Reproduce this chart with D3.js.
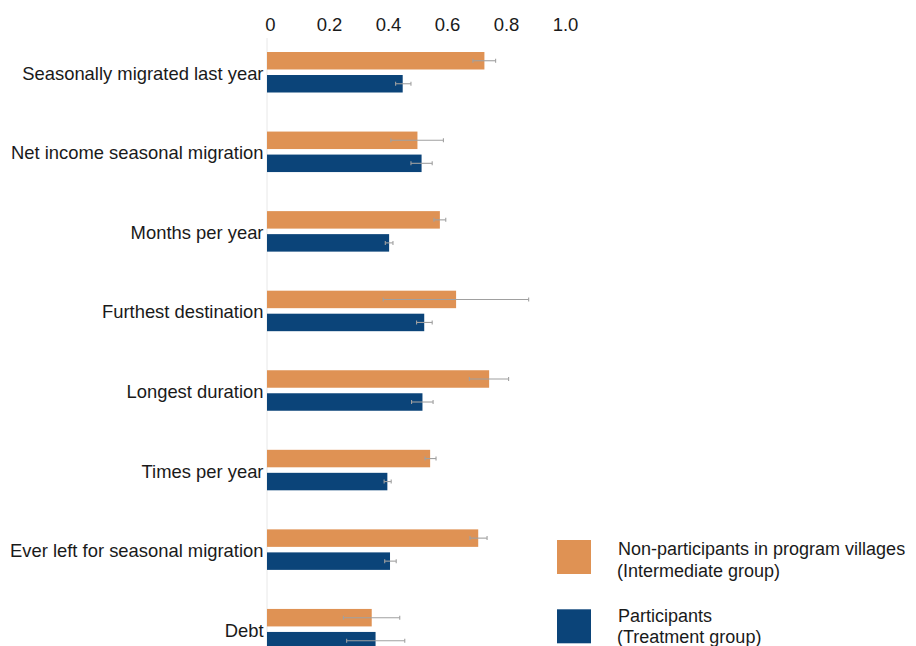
<!DOCTYPE html>
<html>
<head>
<meta charset="utf-8">
<script src="https://cdn.jsdelivr.net/npm/d3@7/dist/d3.min.js"></script>
<style>
  html, body { margin: 0; padding: 0; background: #fff; }
  svg { display: block; font-family: "Liberation Sans", Arial, Helvetica, sans-serif; }
</style>
</head>
<body>
<svg id="chart" width="916" height="646"></svg>
<script>
// Outcome categories, top to bottom
const categories = [
  "Seasonally migrated last year",
  "Net income seasonal migration",
  "Months per year",
  "Furthest destination",
  "Longest duration",
  "Times per year",
  "Ever left for seasonal migration",
  "Debt"
];

const seriesNames = [
  "Non-participants in program villages",
  "Participants"
];
const seriesSubtitles = ["(Intermediate group)", "(Treatment group)"];

// Point estimates
const intermediateValues = [0.737, 0.510, 0.586, 0.641, 0.753, 0.553, 0.716, 0.355];
const treatmentValues    = [0.460, 0.524, 0.414, 0.533, 0.527, 0.408, 0.417, 0.368];

// Confidence interval bounds
const intermediateLow  = [0.698, 0.420, 0.566, 0.394, 0.686, 0.536, 0.688, 0.259];
const intermediateHigh = [0.775, 0.598, 0.606, 0.887, 0.819, 0.573, 0.746, 0.450];
const treatmentLow     = [0.436, 0.488, 0.401, 0.507, 0.490, 0.397, 0.399, 0.270];
const treatmentHigh    = [0.488, 0.560, 0.427, 0.560, 0.563, 0.421, 0.438, 0.467];

const tickValues = [0, 0.2, 0.4, 0.6, 0.8, 1.0];
const tickLabels = ["0", "0.2", "0.4", "0.6", "0.8", "1.0"];

const colors = ["#DF9254", "#0B4479"];

const rows = categories.map((c, i) => ({
  category: c,
  bars: [
    { key: seriesNames[0], value: intermediateValues[i], lo: intermediateLow[i], hi: intermediateHigh[i], color: colors[0] },
    { key: seriesNames[1], value: treatmentValues[i],    lo: treatmentLow[i],    hi: treatmentHigh[i],    color: colors[1] }
  ]
}));

const svg = d3.select("#chart");

const x = d3.scaleLinear().domain([0, 1]).range([267, 562]);
const y = d3.scaleBand().domain(categories).range([40.5, 677]).padding(0);
const ySub = d3.scaleBand().domain(seriesNames).range([11.5, 52]).paddingInner(0.24).paddingOuter(0);

// Baseline at zero
svg.append("line")
  .attr("x1", x(0)).attr("x2", x(0))
  .attr("y1", 38).attr("y2", 646)
  .attr("stroke", "#e8e8e8").attr("stroke-width", 1);

// Top axis labels
const axis = d3.axisTop(x).tickValues(tickValues)
  .tickFormat((d, i) => tickLabels[i]).tickSize(0).tickPadding(0);
const gAxis = svg.append("g").attr("transform", "translate(3,31)").call(axis);
gAxis.select(".domain").remove();
gAxis.selectAll("text")
  .attr("font-size", 18.5).attr("fill", "#1a1a1a")
  .attr("font-family", "Liberation Sans, Arial, sans-serif")
  .attr("dy", 0);

// Category labels
svg.append("g").selectAll("text").data(categories).join("text")
  .attr("x", 263.5)
  .attr("y", d => y(d) + y.bandwidth() / 2 - 7)
  .attr("dy", "0.35em")
  .attr("text-anchor", "end")
  .attr("font-size", 18.4)
  .attr("fill", "#1a1a1a")
  .text(d => d);

// Bars
const groups = svg.append("g").selectAll("g").data(rows).join("g")
  .attr("transform", d => `translate(0,${y(d.category)})`);

groups.selectAll("rect").data(d => d.bars).join("rect")
  .attr("x", x(0))
  .attr("y", d => ySub(d.key))
  .attr("width", d => x(d.value) - x(0))
  .attr("height", ySub.bandwidth())
  .attr("fill", d => d.color);

// Error bars
const err = groups.selectAll("g.err").data(d => d.bars).join("g").attr("class", "err")
  .attr("transform", d => `translate(0,${ySub(d.key) + ySub.bandwidth() / 2})`)
  .attr("stroke", "#a0a0a0").attr("stroke-width", 1.1);
err.append("line").attr("x1", d => x(d.lo)).attr("x2", d => x(d.hi)).attr("y1", 0).attr("y2", 0);
err.append("line").attr("x1", d => x(d.lo)).attr("x2", d => x(d.lo)).attr("y1", -2).attr("y2", 2);
err.append("line").attr("x1", d => x(d.hi)).attr("x2", d => x(d.hi)).attr("y1", -2).attr("y2", 2);

// Legend
const legend = svg.append("g").selectAll("g").data(seriesNames).join("g")
  .attr("transform", (d, i) => `translate(557,${540 + i * 69.3})`);
legend.append("rect")
  .attr("width", 34).attr("height", 34)
  .attr("fill", (d, i) => colors[i]);
legend.append("text")
  .attr("x", 61).attr("y", (d, i) => 14.5 - i * 2)
  .attr("font-size", 18).attr("fill", "#1a1a1a")
  .text(d => d);
legend.append("text")
  .attr("x", 60).attr("y", (d, i) => 36.5 - i * 2.5)
  .attr("font-size", 18).attr("fill", "#1a1a1a")
  .text((d, i) => seriesSubtitles[i]);
</script>
</body>
</html>
